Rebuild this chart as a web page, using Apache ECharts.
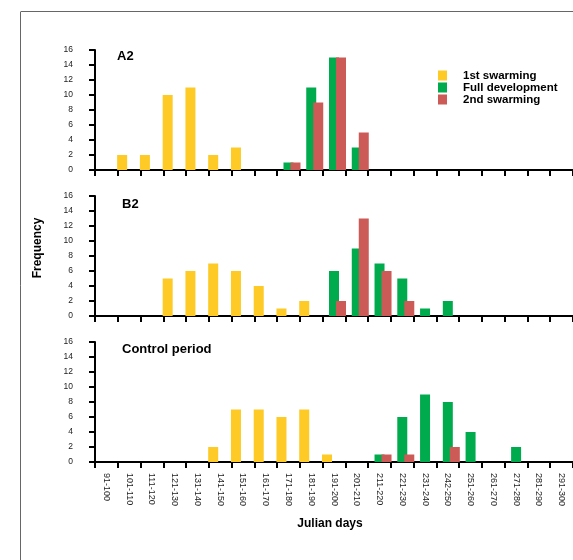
<!DOCTYPE html>
<html><head><meta charset="utf-8">
<script src="https://cdn.jsdelivr.net/npm/echarts@6/dist/echarts.min.js"></script>
<style>html,body{margin:0;padding:0;background:#fff}#c{width:573px;height:560px}</style>
</head><body><div id="c"></div>
<script>
const categories = ['91-100','101-110','111-120','121-130','131-140','141-150','151-160','161-170','171-180','181-190','191-200','201-210','211-220','221-230','231-240','242-250','251-260','261-270','271-280','281-290','291-300'];
const seriesNames = ['1st swarming','Full development','2nd swarming'];
const panelTitles = ['A2','B2','Control period'];
const yMin = 0, yMax = 16, yStep = 2;

const a2First   = [0,2,2,10,11,2,3,0,0,0,0,0,0,0,0,0,0,0,0,0,0];
const a2Full    = [0,0,0,0,0,0,0,0,1,11,15,3,0,0,0,0,0,0,0,0,0];
const a2Second  = [0,0,0,0,0,0,0,0,1,9,15,5,0,0,0,0,0,0,0,0,0];

const b2First   = [0,0,0,5,6,7,6,4,1,2,0,0,0,0,0,0,0,0,0,0,0];
const b2Full    = [0,0,0,0,0,0,0,0,0,0,6,9,7,5,1,2,0,0,0,0,0];
const b2Second  = [0,0,0,0,0,0,0,0,0,0,2,13,6,2,0,0,0,0,0,0,0];

const ctrlFirst  = [0,0,0,0,0,2,7,7,6,7,1,0,0,0,0,0,0,0,0,0,0];
const ctrlFull   = [0,0,0,0,0,0,0,0,0,0,0,0,1,6,9,8,4,0,2,0,0];
const ctrlSecond = [0,0,0,0,0,0,0,0,0,0,0,0,1,1,0,2,0,0,0,0,0];

const panels = [[a2First,a2Full,a2Second],[b2First,b2Full,b2Second],[ctrlFirst,ctrlFull,ctrlSecond]];
const colors = ['#FDCA26','#00AB4E','#CC5A56'];
const gridTops = [50,196,342];
const font = '"Liberation Sans", Arial, Helvetica, sans-serif';

const grid = [], xAxis = [], yAxis = [], series = [], title = [];
const titlePos = [[117,49.5],[122,197.5],[122,342.5]];
panels.forEach((p, i) => {
  grid.push({left: 95, right: -8, top: gridTops[i], height: 120});
  xAxis.push({
    type: 'category', gridIndex: i, data: categories, boundaryGap: true,
    axisLine: {lineStyle: {color: '#000', width: 2}},
    axisTick: {show: true, interval: 0, length: 6, lineStyle: {color: '#000', width: 2}},
    axisLabel: {show: i === 2, interval: 0, rotate: -90, margin: 11, fontSize: 9,
      fontFamily: font, color: '#222', padding: [7,0,0,0]},
    splitLine: {show: false}
  });
  yAxis.push({
    type: 'value', gridIndex: i, min: yMin, max: yMax, interval: yStep,
    axisLine: {show: true, lineStyle: {color: '#000', width: 2}},
    axisTick: {show: true, length: 6, lineStyle: {color: '#000', width: 2}},
    axisLabel: {margin: 22, fontSize: 8.5, fontFamily: font, color: '#222'},
    splitLine: {show: false}
  });
  p.forEach((vals, k) => {
    series.push({
      type: 'bar', name: seriesNames[k], xAxisIndex: i, yAxisIndex: i,
      data: vals, barWidth: 10, barGap: '-30%',
      itemStyle: {color: colors[k]}
    });
  });
  title.push({text: panelTitles[i], left: titlePos[i][0], top: titlePos[i][1], padding: 0,
    textStyle: {fontSize: 13, fontWeight: 'bold', color: '#000', fontFamily: font}});
});

const chart = echarts.init(document.getElementById('c'), null, {renderer: 'canvas'});
chart.setOption({
  animation: false,
  backgroundColor: '#fff',
  title: title,
  legend: {
    orient: 'vertical', left: 438, top: 69.5, padding: 0,
    itemWidth: 9, itemHeight: 10, itemGap: 0, icon: 'rect',
    data: seriesNames, selectedMode: false,
    textStyle: {fontSize: 11.5, fontWeight: 'bold', color: '#000', fontFamily: font,
      lineHeight: 11.5, padding: [0,0,0,11]}
  },
  grid: grid, xAxis: xAxis, yAxis: yAxis, series: series,
  graphic: [
    {type: 'line', shape: {x1: 21, y1: 11.5, x2: 573, y2: 11.5}, style: {stroke: '#666', lineWidth: 1}},
    {type: 'line', shape: {x1: 20.5, y1: 11.5, x2: 20.5, y2: 560}, style: {stroke: '#666', lineWidth: 1}},
    {type: 'text', x: 37.5, y: 248, rotation: Math.PI / 2,
      style: {text: 'Frequency', font: 'bold 12px ' + font, fill: '#000', align: 'center', verticalAlign: 'middle'}},
    {type: 'text', x: 330, y: 524,
      style: {text: 'Julian days', font: 'bold 12px ' + font, fill: '#000', align: 'center', verticalAlign: 'middle'}}
  ]
});
</script>
</body></html>
